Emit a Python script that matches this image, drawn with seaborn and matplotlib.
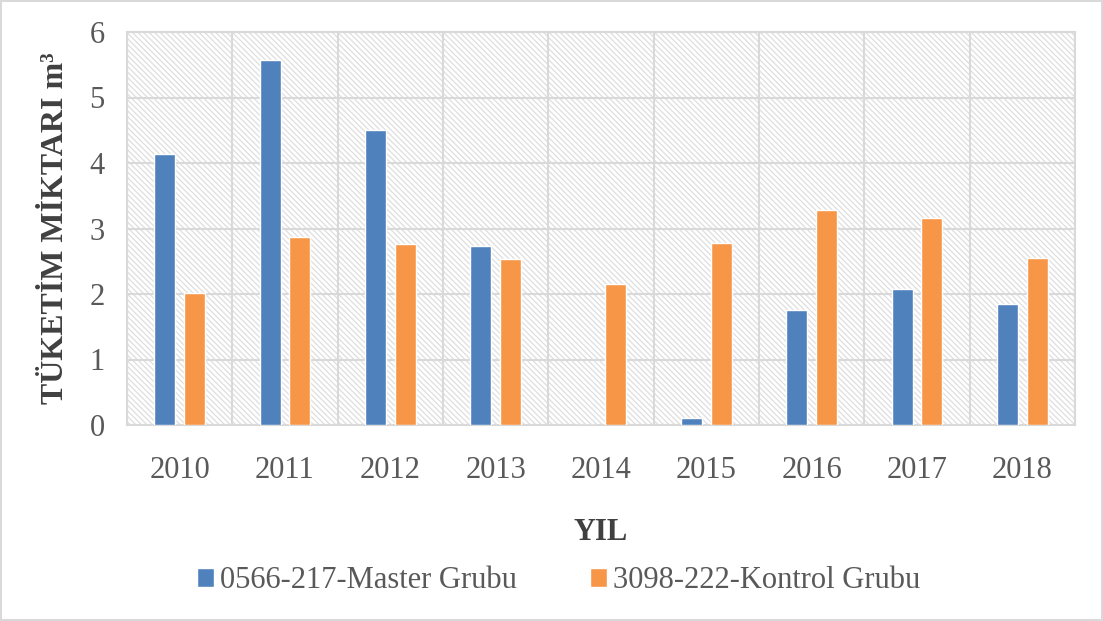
import matplotlib
matplotlib.use("Agg")
import matplotlib.pyplot as plt
from matplotlib.patches import Rectangle
import seaborn as sns
import pandas as pd
import numpy as np

years = ["2010", "2011", "2012", "2013", "2014", "2015", "2016", "2017", "2018"]
master = [4.13, 5.58, 4.51, 2.73, 0.0, 0.11, 1.75, 2.07, 1.85]
kontrol = [2.01, 2.87, 2.76, 2.53, 2.16, 2.78, 3.28, 3.16, 2.55]
series_names = ["0566-217-Master Grubu", "3098-222-Kontrol Grubu"]
colors = ["#4f81bd", "#f79646"]
y_ticks = [0, 1, 2, 3, 4, 5, 6]

df = pd.DataFrame({
    "Yıl": years * 2,
    "Değer": master + kontrol,
    "Grup": [series_names[0]] * len(years) + [series_names[1]] * len(years),
})

sns.set_theme(style="white")
plt.rcParams["font.family"] = ["Liberation Serif", "DejaVu Serif"]
plt.rcParams["hatch.color"] = "#dedede"
plt.rcParams["hatch.linewidth"] = 0.9

fig = plt.figure(figsize=(11.03, 6.21), dpi=100)
fig.patch.set_facecolor("white")
fig.patch.set_edgecolor("#d9d9d9")
fig.patch.set_linewidth(1.5)
ax = fig.add_axes([127 / 1103, 1 - 425 / 621, (1075 - 127) / 1103, (425 - 32) / 621])

ax.patch.set_facecolor("white")
bg = Rectangle((0, 0), 1, 1, transform=ax.transAxes, facecolor="white",
               edgecolor="#dedede", hatch="\\\\\\\\\\\\", linewidth=0, zorder=0.1)
ax.add_patch(bg)

sns.barplot(data=df, x="Yıl", y="Değer", hue="Grup", palette=colors,
            width=0.56, gap=0.29, ax=ax, legend=True, saturation=1, zorder=3)

ax.set_ylim(0, 6)
ax.set_xlim(-0.5, len(years) - 0.5)
ax.set_yticks(y_ticks)
ax.set_xticks(range(len(years)))
ax.set_xticks(np.arange(-0.5, len(years), 1.0), minor=True)
ax.grid(axis="y", which="major", color="#d9d9d9", linewidth=1.5, zorder=1)
ax.grid(axis="x", which="minor", color="#d9d9d9", linewidth=1.5, zorder=1)
ax.grid(axis="x", which="major", visible=False)
ax.set_axisbelow(True)
ax.tick_params(axis="both", which="both", length=0, labelsize=22, labelcolor="#595959")
ax.tick_params(axis="x", pad=22)
ax.tick_params(axis="y", pad=16)
for s in ax.spines.values():
    s.set_color("#d9d9d9")
    s.set_linewidth(1.5)

ax.set_xlabel("YIL", fontsize=22, fontweight="bold", color="#404040", labelpad=24)
ax.set_ylabel("TÜKETİM MİKTARI m³", fontsize=23, fontweight="bold", color="#404040", labelpad=14)

handles, labels = ax.get_legend_handles_labels()
ax.legend(handles, labels, loc="center", bbox_to_anchor=(559 / 1103, 1 - 581 / 621),
          bbox_transform=fig.transFigure, ncol=2, frameon=False, fontsize=22,
          handlelength=0.55, handleheight=0.55, handletextpad=0.2, columnspacing=2.4,
          labelcolor="#595959")

fig.savefig("out.png", dpi=100, facecolor=fig.get_facecolor(), edgecolor=fig.get_edgecolor())
